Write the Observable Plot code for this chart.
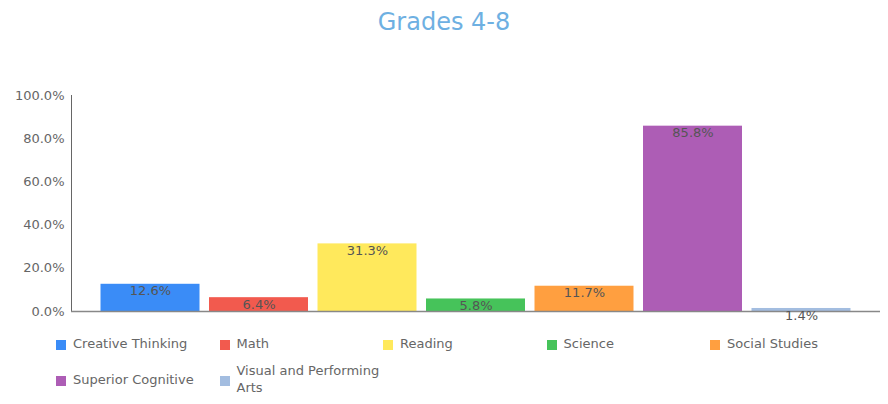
<!DOCTYPE html>
<html>
<head>
<meta charset="utf-8">
<script src="https://cdn.jsdelivr.net/npm/d3@7"></script>
<script src="https://cdn.jsdelivr.net/npm/@observablehq/plot@0.6"></script>
<style>
  body { margin: 0; background: #fff; font-family: "DejaVu Sans", Verdana, sans-serif; }
  #wrap { width: 888px; }
  #title { height: 45px; line-height: 45px; text-align: center; font-size: 24px; color: #6eb0e2; }
  #legend { display: grid; grid-template-columns: repeat(5, 163.5px); margin-left: 56px; row-gap: 10px; margin-top: 1px; }
  .item { display: flex; align-items: center; font-size: 13px; color: #666; line-height: 17px; }
  .sw { width: 10px; height: 10px; flex: none; margin-right: 7px; margin-top: 3px; }
  .lab { width: 156px; }
</style>
</head>
<body>
<div id="wrap">
  <div id="title">Grades 4-8</div>
  <div id="chart"></div>
  <div id="legend"></div>
</div>
<script>
const categories = ["Creative Thinking", "Math", "Reading", "Science", "Social Studies", "Superior Cognitive", "Visual and Performing Arts"];
const values = [12.6, 6.4, 31.3, 5.8, 11.7, 85.8, 1.4];
const colors = ["#3a8cf7", "#f25a4e", "#ffe95c", "#46c35a", "#ff9f40", "#ad5db5", "#a3bde0"];
const yTicks = [0, 20, 40, 60, 80, 100];

const data = categories.map((c, i) => ({category: c, value: values[i]}));

const chart = Plot.plot({
  width: 888,
  height: 289,
  marginTop: 50,
  marginBottom: 23,
  marginLeft: 71,
  marginRight: 8,
  style: {fontFamily: "'DejaVu Sans', Verdana, sans-serif", fontSize: "13px", color: "#666", background: "#fff"},
  x: {domain: categories, axis: null, paddingInner: 0.0876, paddingOuter: 0.272, round: false},
  y: {domain: [0, 100], ticks: yTicks, tickFormat: d => d.toFixed(1) + "%", tickSize: 0, tickPadding: 7, label: null, line: true},
  color: {domain: categories, range: colors},
  marks: [
    Plot.barY(data, {x: "category", y: "value", fill: "category"}),
    Plot.ruleY([0], {stroke: "#888", strokeWidth: 1.5}),
    Plot.text(data, {x: "category", y: "value", text: d => d.value.toFixed(1) + "%", dy: 7, fill: "#555", fontSize: 13})
  ]
});
document.getElementById("chart").appendChild(chart);

const legend = document.getElementById("legend");
categories.forEach((c, i) => {
  const it = document.createElement("div");
  it.className = "item";
  it.innerHTML = `<span class="sw" style="background:${colors[i]}"></span><span class="lab">${c}</span>`;
  legend.appendChild(it);
});
</script>
</body>
</html>
